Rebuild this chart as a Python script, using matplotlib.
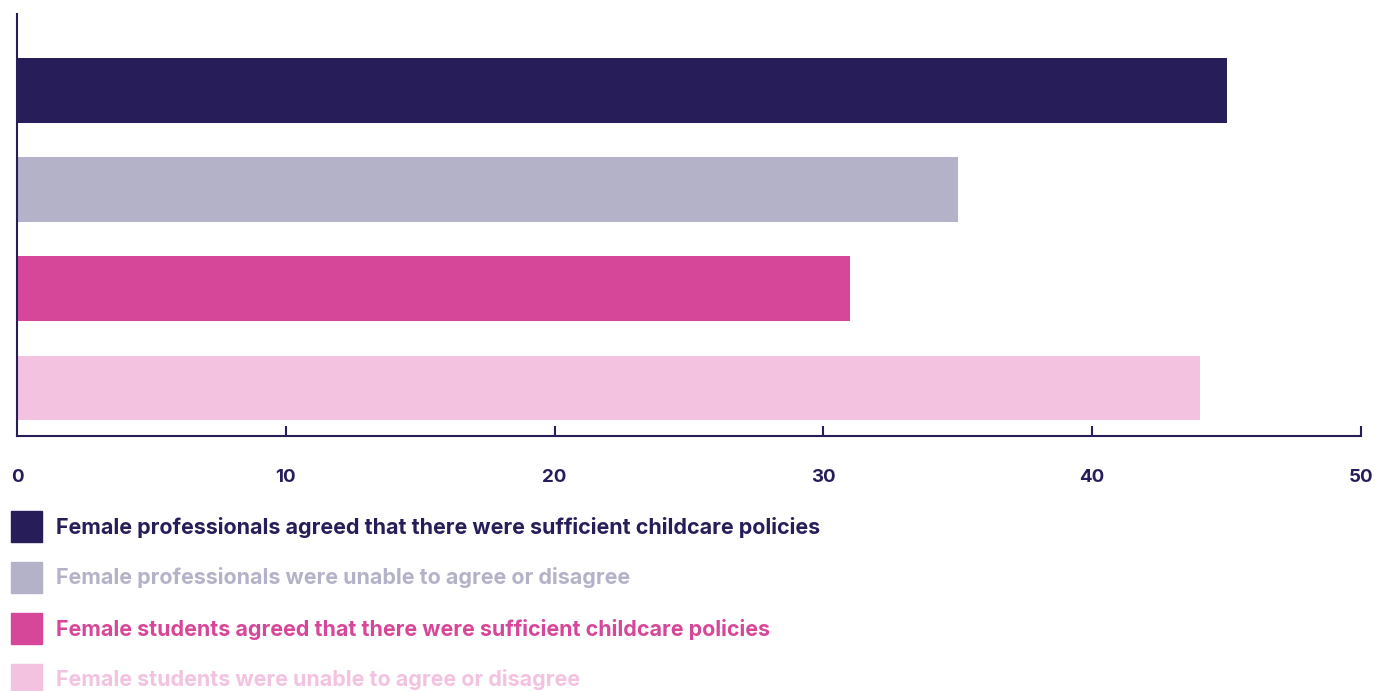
import matplotlib.pyplot as plt
from matplotlib.patches import Rectangle

# share of respondents (%)
labels = [
    'Female professionals agreed that there were sufficient childcare policies',
    'Female professionals were unable to agree or disagree',
    'Female students agreed that there were sufficient childcare policies',
    'Female students were unable to agree or disagree',
]
values = [45, 35, 31, 44]
colors = ['#261d59', '#b4b2c8', '#d6479a', '#f3c2e0']
ticks = [0, 10, 20, 30, 40, 50]

NAVY = '#261d59'
W, H = 1375, 691

plt.rcParams['font.family'] = ['Inter', 'DejaVu Sans']

fig = plt.figure(figsize=(W / 100, H / 100), dpi=100)
ax = fig.add_axes([17 / W, 1 - 436 / H, (1361 - 17) / W, (436 - 14) / H])

pos = list(range(len(values)))
ax.barh(pos, values, height=0.655, color=colors, zorder=2)
ax.set_ylim(3.484, -0.771)
ax.set_xlim(0, 50)

for side in ['top', 'right']:
    ax.spines[side].set_visible(False)
for side in ['left', 'bottom']:
    ax.spines[side].set_color(NAVY)
    ax.spines[side].set_linewidth(1.5)

ax.set_yticks([])
ax.set_xticks(ticks)
ax.set_xticklabels([str(t) for t in ticks], fontsize=13.5, fontweight='bold', color=NAVY)
ax.tick_params(axis='x', direction='in', length=7.5, width=1.5, color=NAVY, pad=24)
ax.xaxis.get_major_ticks()[0].tick1line.set_visible(False)

# legend drawn by hand below the axis
rows_y = [527, 578, 629, 680]
for lab, col, y in zip(labels, colors, rows_y):
    fig.patches.append(Rectangle((11 / W, 1 - (y + 15) / H), 31 / W, 31 / H,
                                 transform=fig.transFigure, color=col))
    fig.text(56 / W, 1 - y / H, lab, color=col, fontsize=15.45, fontweight='bold',
             va='center', ha='left')

fig.savefig('out.png', dpi=100)
